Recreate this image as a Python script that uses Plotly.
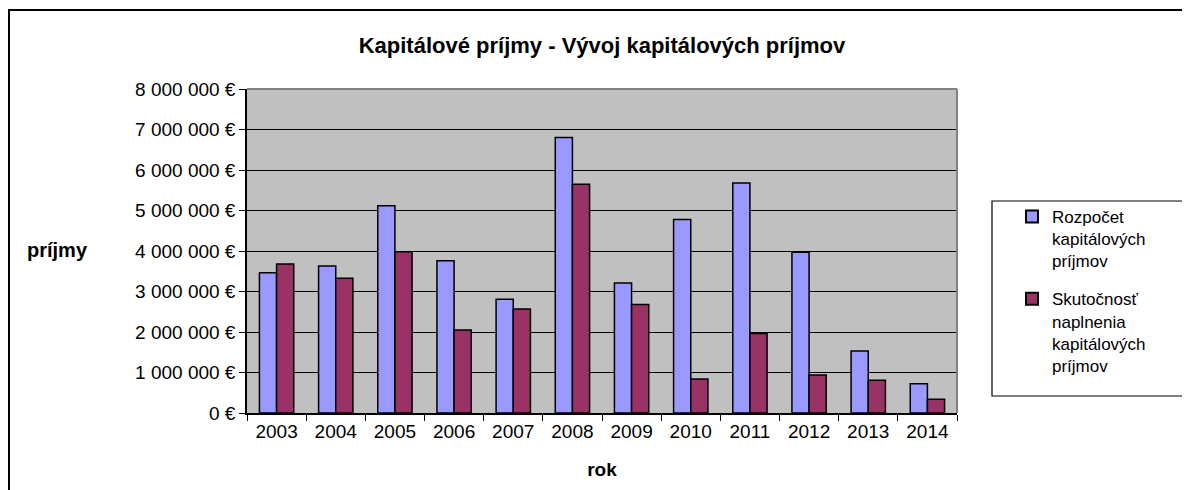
import plotly.graph_objects as go

years = ["2003", "2004", "2005", "2006", "2007", "2008", "2009", "2010", "2011", "2012", "2013", "2014"]
rozpocet = [3460000, 3630000, 5120000, 3760000, 2810000, 6800000, 3210000, 4780000, 5680000, 3970000, 1530000, 720000]
skutocnost = [3680000, 3330000, 3980000, 2050000, 2570000, 5650000, 2680000, 840000, 1960000, 940000, 810000, 340000]
ytick_vals = [0, 1000000, 2000000, 3000000, 4000000, 5000000, 6000000, 7000000, 8000000]
ytick_text = ["0 €", "1 000 000 €", "2 000 000 €", "3 000 000 €", "4 000 000 €",
              "5 000 000 €", "6 000 000 €", "7 000 000 €", "8 000 000 €"]

# page geometry (the page body has an 8px margin)
OFF = 8
W, H = 1190 - OFF, 490 - OFF
L, R, T, B = 247, 957, 89, 413


def px(x):
    return (x - L) / (R - L)


def py(y):
    return (B - y) / (B - T)


FONT = "Liberation Sans, Arial, sans-serif"

fig = go.Figure()
fig.add_trace(go.Bar(x=years, y=rozpocet, name="Rozpočet<br>kapitálových<br>príjmov",
                     legendgroup="a",
                     marker=dict(color="#9999FF", line=dict(color="black", width=1.5))))
fig.add_trace(go.Bar(x=years, y=skutocnost, name="Skutočnosť<br>naplnenia<br>kapitálových<br>príjmov",
                     legendgroup="b",
                     marker=dict(color="#993366", line=dict(color="black", width=1.5))))

fig.update_layout(
    width=W, height=H,
    margin=dict(l=L - OFF, r=1190 - R, t=T - OFF, b=490 - B, pad=0),
    paper_bgcolor="white",
    plot_bgcolor="#C0C0C0",
    barmode="group",
    bargap=0.42,
    bargroupgap=0,
    font=dict(family=FONT, size=19, color="black"),
    title=dict(text="<b>Kapitálové príjmy - Vývoj kapitálových príjmov</b>",
               x=(602 - OFF) / W, xanchor="center", y=1 - (45 - OFF) / H, yanchor="middle",
               font=dict(size=22, family=FONT)),
    showlegend=True,
    legend=dict(x=px(1012), y=py(199), xanchor="left", yanchor="top",
                bgcolor="rgba(0,0,0,0)", borderwidth=0,
                font=dict(size=17, family=FONT), valign="top",
                tracegroupgap=13, itemsizing="constant"),
)

fig.update_xaxes(
    type="category", showline=True, linecolor="black", linewidth=1.5,
    ticks="outside", tickson="boundaries", ticklen=6, tickcolor="black",
    showgrid=False, tickfont=dict(size=19),
    title=dict(text="<b>rok</b>", font=dict(size=19), standoff=22),
)
fig.update_yaxes(
    range=[0, 8000000], tickvals=ytick_vals, ticktext=ytick_text,
    showline=True, linecolor="black", linewidth=1.5,
    ticks="outside", ticklen=6, tickcolor="black",
    showgrid=True, gridcolor="black", gridwidth=1.2,
    zeroline=False, tickfont=dict(size=19),
)

# y-axis label placed horizontally
fig.add_annotation(text="<b>príjmy</b>", xref="paper", yref="paper",
                   x=px(57), y=py(250), xanchor="center", yanchor="middle",
                   showarrow=False, font=dict(size=20, family=FONT))

shapes = [
    # plot area top/right gray border
    dict(type="line", xref="paper", yref="paper", x0=0, x1=1, y0=1, y1=1,
         line=dict(color="#808080", width=2)),
    dict(type="line", xref="paper", yref="paper", x0=1, x1=1, y0=0, y1=1,
         line=dict(color="#808080", width=2)),
    # legend box
    dict(type="rect", xref="paper", yref="paper", x0=px(992), x1=px(1188),
         y0=py(396), y1=py(201), line=dict(color="black", width=1.2)),
    # outer chart border
    dict(type="rect", xref="paper", yref="paper", x0=px(9), x1=px(1210),
         y0=py(510), y1=py(10), line=dict(color="black", width=2)),
]
fig.update_layout(shapes=shapes)

fig.write_html("out.html")
